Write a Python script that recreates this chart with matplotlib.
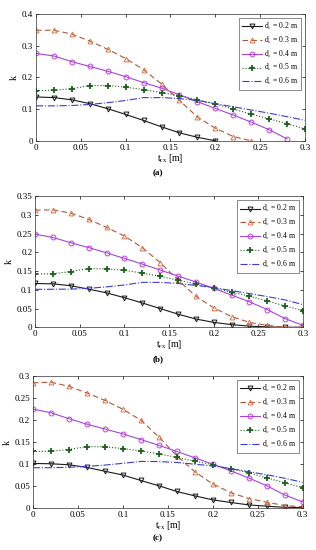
import numpy as np
import matplotlib
matplotlib.use('Agg')
import matplotlib.pyplot as plt

plt.rcParams['font.family'] = ['Liberation Serif', 'DejaVu Serif']
plt.rcParams['mathtext.fontset'] = 'custom'
plt.rcParams['mathtext.rm'] = 'Liberation Serif'
plt.rcParams['mathtext.it'] = 'Liberation Serif:italic'
plt.rcParams['font.size'] = 6.5

# offset t_rx [m]
t_rx = [0, 0.02, 0.04, 0.06, 0.08, 0.1, 0.12, 0.14, 0.16, 0.18, 0.2,
        0.22, 0.24, 0.26, 0.28, 0.3]
dc_labels = ['0.2', '0.3', '0.4', '0.5', '0.6']
nan = np.nan

# panel (a)
a_02 = [0.138, 0.136, 0.129, 0.117, 0.101, 0.083, 0.064, 0.044, 0.025, 0.011, 0.0,
        nan, nan, nan, nan, nan]
a_03 = [0.348, 0.348, 0.336, 0.314, 0.288, 0.259, 0.224, 0.179, 0.127, 0.075, 0.040,
        0.0135, 0.0, nan, nan, nan]
a_04 = [0.275, 0.267, 0.249, 0.234, 0.219, 0.202, 0.183, 0.166, 0.145, 0.123, 0.102,
        0.081, 0.059, 0.035, 0.006, nan]
a_05 = [0.158, 0.159, 0.164, 0.174, 0.174, 0.169, 0.161, 0.152, 0.142, 0.129, 0.116,
        0.100, 0.084, 0.069, 0.054, 0.0375]
a_06 = [0.110, 0.110, 0.111, 0.1145, 0.120, 0.127, 0.136, 0.136, 0.133, 0.127, 0.117,
        0.107, 0.097, 0.087, 0.076, 0.0645]

# panel (b)
b_02 = [0.117, 0.116, 0.111, 0.102, 0.092, 0.079, 0.065, 0.050, 0.035, 0.022, 0.013,
        0.007, 0.003, 0.001, 0.0, 0.0]
b_03 = [0.313, 0.314, 0.305, 0.2885, 0.267, 0.244, 0.213, 0.173, 0.126, 0.083, 0.052,
        0.0285, 0.013, 0.005, 0.0, 0.0]
b_04 = [0.249, 0.240, 0.226, 0.213, 0.199, 0.184, 0.169, 0.153, 0.137, 0.121, 0.104,
        0.086, 0.068, 0.047, 0.023, 0.005]
b_05 = [0.1425, 0.143, 0.149, 0.157, 0.156, 0.152, 0.145, 0.136, 0.126, 0.116, 0.105,
        0.0935, 0.083, 0.070, 0.057, 0.0445]
b_06 = [0.1015, 0.1015, 0.102, 0.104, 0.108, 0.113, 0.120, 0.120, 0.117, 0.112, 0.106,
        0.098, 0.090, 0.082, 0.073, 0.0605]

# panel (c)
c_02 = [0.1017, 0.101, 0.0987, 0.0927, 0.084, 0.0754, 0.063, 0.051, 0.038, 0.028, 0.019,
        0.013, 0.0075, 0.0045, 0.002, 0.0015]
c_03 = [0.285, 0.2864, 0.277, 0.262, 0.245, 0.225, 0.200, 0.162, 0.119, 0.083, 0.055,
        0.0354, 0.022, 0.0136, 0.006, 0.003]
c_04 = [0.2253, 0.217, 0.2035, 0.191, 0.180, 0.169, 0.156, 0.143, 0.129, 0.1145, 0.100,
        0.085, 0.0686, 0.051, 0.030, 0.0143]
c_05 = [0.1289, 0.1296, 0.1334, 0.140, 0.1394, 0.1356, 0.130, 0.1236, 0.1153, 0.107, 0.0987,
        0.0897, 0.0806, 0.0686, 0.058, 0.0467]
c_06 = [0.092, 0.092, 0.093, 0.095, 0.098, 0.102, 0.1063, 0.106, 0.104, 0.100, 0.096,
        0.090, 0.083, 0.076, 0.068, 0.0588]

panels = [
    ([a_02, a_03, a_04, a_05, a_06], 0.4, [0, 0.1, 0.2, 0.3, 0.4], '(a)'),
    ([b_02, b_03, b_04, b_05, b_06], 0.35, [0, 0.05, 0.1, 0.15, 0.2, 0.25, 0.3, 0.35], '(b)'),
    ([c_02, c_03, c_04, c_05, c_06], 0.3, [0, 0.05, 0.1, 0.15, 0.2, 0.25, 0.3], '(c)'),
]

styles = [
    dict(color='#1a1a1a', ls='-', marker='v', mfc='none', mec='#1a1a1a', ms=3.5, mew=0.7),
    dict(color='#b0573a', ls=(0, (5, 3)), marker='^', mfc='none', mec='#d4764e', ms=3.5, mew=0.7),
    dict(color='#a844d8', ls='-', marker='o', mfc='none', mec='#c040d8', ms=3.5, mew=0.7),
    dict(color='#1e5e1e', ls=':', marker='+', mfc='none', mec='#1e5e1e', ms=5, mew=1.3),
    dict(color='#3b3bd0', ls='-.', marker=None, mfc='none', mec='none', ms=0, mew=0),
]

# axes rects in figure fractions [left, bottom, width, height]
rects = [[0.114, 0.744, 0.851, 0.231],
         [0.111, 0.405, 0.848, 0.238],
         [0.104, 0.076, 0.854, 0.240]]
cap_y = [0.686, 0.347, 0.022]

fig = plt.figure(figsize=(3.16, 5.5), dpi=100)

def fmt(v):
    return '%g' % v

for (series, ymax, yticks, cap), rect, cy in zip(panels, rects, cap_y):
    ax = fig.add_axes(rect)
    for vals, st, lab in zip(series, styles, dc_labels):
        ax.plot(t_rx, vals, color=st['color'], ls=st['ls'], lw=0.8,
                marker=st['marker'], ms=st['ms'], mfc=st['mfc'], mec=st['mec'],
                mew=st['mew'], label='d$_\\mathrm{c}$ = %s m' % lab)
    ax.set_xlim(0, 0.3)
    ax.set_ylim(0, ymax)
    xt = [0, 0.05, 0.1, 0.15, 0.2, 0.25, 0.3]
    ax.set_xticks(xt)
    ax.set_xticklabels([fmt(v) for v in xt])
    ax.set_yticks(yticks)
    ax.set_yticklabels([fmt(v) for v in yticks])
    ax.tick_params(direction='in', top=True, right=True, length=2.5, width=0.5,
                   labelsize=6.5, pad=2)
    for sp in ax.spines.values():
        sp.set_linewidth(0.5)
        sp.set_color('#333333')
    ax.set_xlabel('t$_\\mathrm{rx}$ [m]', fontsize=7, labelpad=0)
    ax.set_ylabel('k', fontsize=7, labelpad=2)
    leg = ax.legend(loc='upper right', fontsize=5.5, frameon=True, fancybox=False,
                    handlelength=2.6, borderpad=0.4, labelspacing=0.35,
                    handletextpad=0.3, borderaxespad=0.5)
    leg.get_frame().set_linewidth(0.5)
    leg.get_frame().set_edgecolor('#333333')
    fig.text(0.5, cy, cap, ha='center', va='center', fontsize=6.5, fontweight='bold')

fig.savefig('out.png', dpi=100)
